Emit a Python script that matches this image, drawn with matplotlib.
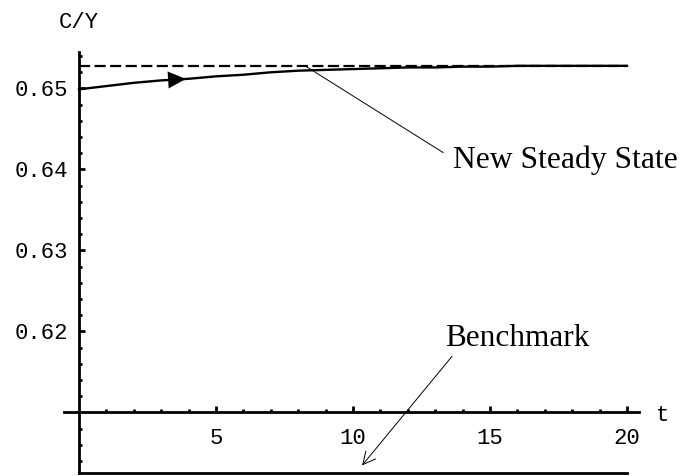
"""C/Y transition path toward the new steady state (Mathematica-style axes)."""
import matplotlib
matplotlib.use("Agg")
import matplotlib.pyplot as plt
import numpy as np

# data
t = np.arange(0, 21)
cy_path = np.array([0.6499, 0.6503, 0.6507, 0.6510, 0.6512, 0.6515, 0.6517,
                    0.6520, 0.6522, 0.6523, 0.6524, 0.6525, 0.6526, 0.6526,
                    0.6527, 0.6527, 0.6528, 0.6528, 0.6528, 0.6528, 0.6528])
new_steady = 0.6528
benchmark = 0.60247
x_major = [5, 10, 15, 20]
y_major = [0.62, 0.63, 0.64, 0.65]
y_labels = ["0.62", "0.63", "0.64", "0.65"]

mono = "Liberation Mono"
serif = "Liberation Serif"

fig = plt.figure(figsize=(6.86, 4.76), dpi=100)
ax = fig.add_axes([0, 0, 1, 1])
ax.set_xlim(-2.883, 22.153)
ax.set_ylim(0.60216, 0.660926)

# axes crossing at (0, 0.61)
for side in ("top", "right"):
    ax.spines[side].set_visible(False)
ax.spines["left"].set_position(("data", 0))
ax.spines["bottom"].set_position(("data", 0.61))
ax.spines["left"].set_bounds(0.6025, 0.6545)
ax.spines["bottom"].set_bounds(-0.55, 20.45)
for side in ("left", "bottom"):
    ax.spines[side].set_linewidth(2.0)

ax.set_xticks(x_major)
ax.set_xticks([v for v in range(1, 21) if v not in x_major], minor=True)
ax.set_yticks(y_major)
ax.set_yticklabels(y_labels)
ax.set_yticks([round(v, 3) for v in np.arange(0.604, 0.6545, 0.002)
               if round(v, 3) not in y_major + [0.61]], minor=True)
ax.tick_params(which="both", direction="in", width=2, labelsize=16)
ax.tick_params(which="major", length=4)
ax.tick_params(which="minor", length=2.5)
ax.tick_params(axis="y", pad=8)
ax.tick_params(axis="x", pad=11)
for lab in ax.get_xticklabels() + ax.get_yticklabels():
    lab.set_family(mono)

# curves
ax.plot(t, cy_path, color="black", lw=1.7)
ax.plot([t[0], t[-1]], [new_steady, new_steady], color="black", lw=1.6,
        dashes=(5, 2))
ax.plot([t[0], t[-1]], [benchmark, benchmark], color="black", lw=2.0)

# direction arrow on the path
tip_t, base_t = 3.9, 3.3
ax.annotate("", xy=(tip_t, np.interp(tip_t, t, cy_path)),
            xytext=(base_t, np.interp(base_t, t, cy_path)),
            arrowprops=dict(arrowstyle="-|>,head_length=0.42,head_width=0.2",
                            mutation_scale=30, color="black", lw=0.1,
                            shrinkA=0, shrinkB=0))

# labels
ax.text(-0.73, 0.65747, "C/Y", family=mono, fontsize=16, ha="left", va="baseline")
ax.text(21.06, 0.60895, "t", family=mono, fontsize=16, ha="left", va="baseline")

ax.annotate("New Steady State", xy=(8.25, new_steady), xytext=(13.65, 0.640185),
            family=serif, fontsize=22.8, ha="left", va="baseline",
            arrowprops=dict(arrowstyle="-", color="black", lw=0.7,
                            relpos=(0, 0.55), shrinkA=6, shrinkB=0))
ax.annotate("Benchmark", xy=(10.33, 0.60346), xytext=(13.36, 0.61827),
            family=serif, fontsize=22.5, ha="left", va="baseline",
            arrowprops=dict(arrowstyle="->", color="black", lw=0.7,
                            relpos=(0.07, 0), shrinkA=1, shrinkB=0))

fig.savefig("out.png", dpi=100)
